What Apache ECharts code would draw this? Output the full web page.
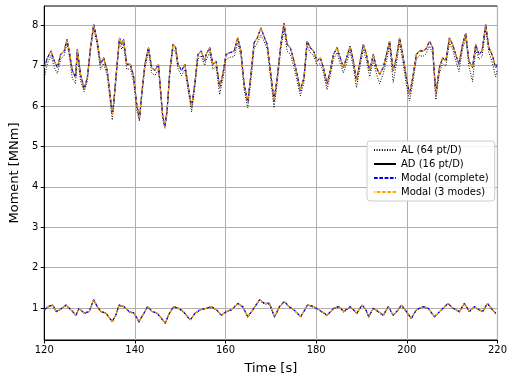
<!DOCTYPE html>
<html>
<head>
<meta charset="utf-8">
<script src="https://cdn.jsdelivr.net/npm/echarts@6/dist/echarts.min.js"></script>
<style>
  html, body { margin: 0; padding: 0; background: #fff; }
  #chart { width: 510px; height: 381px; }
</style>
</head>
<body>
<div id="chart"></div>
<script>
// Time samples [s] for the large (upper) moment signal
const tUpper = [120.0,120.7,121.5,122.2,122.9,123.6,124.4,125.0,125.5,126.2,126.9,127.3,128.0,128.8,129.5,130.2,130.9,131.7,132.4,133.1,133.9,134.6,135.0,135.3,136.0,136.6,137.1,137.5,138.2,139.0,139.7,140.4,141.0,141.5,142.2,143.0,143.7,144.4,145.2,145.5,146.1,146.6,147.1,147.7,148.4,149.0,149.5,150.3,151.0,151.7,152.5,153.2,153.9,154.6,155.4,155.7,156.5,157.2,157.9,158.7,159.4,160.1,160.8,161.9,162.7,163.4,164.1,164.9,165.6,166.3,167.0,167.8,168.5,169.2,170.0,170.7,171.4,172.2,172.9,173.6,174.3,175.1,175.8,176.5,177.3,178.0,178.7,179.4,180.2,180.9,181.6,182.4,183.1,183.8,184.6,185.3,186.0,186.7,187.5,188.2,188.9,189.7,190.4,191.1,191.8,192.6,193.3,194.0,194.8,195.5,196.2,197.0,197.7,198.4,199.1,199.9,200.6,201.3,202.1,202.8,203.5,204.2,205.0,205.7,206.4,207.2,207.9,208.6,209.4,210.1,210.8,211.5,212.3,213.0,213.7,214.5,215.2,215.9,216.6,217.4,218.1,218.8,219.6,220.0];

// AD (16 pt/D) upper moment [MNm]
const adUpper = [6.95,7.19,7.36,7.11,6.95,7.27,7.36,7.64,7.36,6.87,6.70,7.40,6.78,6.42,6.70,7.44,8.01,7.60,7.03,7.19,6.87,6.21,5.80,6.05,6.95,7.68,7.52,7.64,7.03,7.03,6.74,6.05,5.68,6.29,7.03,7.44,6.95,6.87,7.03,6.62,5.80,5.48,5.89,6.87,7.52,7.44,7.03,6.87,7.03,6.54,5.97,6.54,7.27,7.36,7.11,7.27,7.44,7.03,7.11,6.46,6.78,7.27,7.31,7.36,7.68,7.36,6.54,6.09,6.78,7.56,7.68,7.93,7.72,7.52,6.78,6.13,6.70,7.52,8.05,7.52,7.44,7.11,6.78,6.38,6.70,7.60,7.44,7.36,7.11,7.19,6.95,6.54,6.87,7.27,7.44,7.19,6.95,7.19,7.48,7.11,6.62,7.11,7.52,7.27,6.87,7.27,6.95,6.78,6.95,7.27,7.60,6.87,7.19,7.68,7.27,6.70,6.29,6.70,7.27,7.36,7.36,7.40,7.60,7.44,6.29,6.95,7.19,7.11,7.68,7.52,7.27,7.03,7.52,7.80,7.11,6.95,7.52,7.27,7.36,8.01,7.44,7.27,6.95,7.03];

// AL (64 pt/D) upper moment [MNm]
const alUpper = [6.70,7.05,7.25,6.95,6.80,7.15,7.25,7.55,7.25,6.68,6.55,7.25,6.62,6.35,6.60,7.35,7.92,7.50,6.90,7.05,6.75,6.05,5.65,5.95,6.85,7.60,7.40,7.50,6.90,6.92,6.60,5.90,5.62,6.20,6.92,7.35,6.82,6.75,6.90,6.50,5.70,5.45,5.80,6.75,7.42,7.32,6.92,6.75,6.90,6.42,5.85,6.42,7.15,7.25,7.00,7.12,7.32,6.90,6.98,6.28,6.65,7.15,7.20,7.22,7.55,7.22,6.40,5.95,6.62,7.42,7.55,7.75,7.60,7.40,6.62,5.95,6.55,7.40,7.90,7.35,7.28,6.95,6.62,6.25,6.58,7.48,7.32,7.25,7.00,7.05,6.82,6.40,6.75,7.15,7.32,7.05,6.82,7.05,7.35,6.95,6.45,6.98,7.40,7.12,6.72,7.12,6.80,6.55,6.80,7.12,7.48,6.58,7.05,7.55,7.12,6.52,6.12,6.55,7.15,7.25,7.22,7.28,7.48,7.30,6.15,6.82,7.05,6.98,7.55,7.40,7.12,6.85,7.40,7.68,6.98,6.60,7.40,7.15,7.22,7.90,7.32,7.10,6.72,6.90];

// Time samples [s] for the small (lower) moment signal
const tLower = [120.1,120.8,121.9,122.6,123.4,124.8,125.9,127.0,127.7,128.8,129.9,130.9,131.7,132.5,133.6,135.0,135.8,136.5,137.6,138.7,139.8,140.9,142.0,142.8,143.8,144.9,145.6,146.7,147.4,148.5,149.6,150.7,152.2,153.3,154.4,155.8,156.9,158.0,159.1,160.2,161.3,162.7,163.8,164.9,166.0,167.5,168.6,169.7,170.8,171.9,173.0,174.0,175.1,176.6,178.1,179.5,180.6,182.4,183.9,185.0,186.1,187.5,189.0,190.1,190.8,191.6,192.6,193.7,194.8,195.9,197.0,198.1,198.8,199.9,201.0,202.1,203.6,204.7,206.1,207.6,209.1,210.2,211.6,212.7,213.8,214.9,216.0,216.7,217.8,218.9,219.6];

// AD (16 pt/D) lower moment [MNm]
const adLower = [0.96,1.04,1.08,0.92,0.96,1.08,0.96,0.83,1.00,0.88,0.92,1.21,1.04,0.92,0.88,0.67,0.83,1.08,1.04,0.92,0.88,0.67,0.88,1.04,0.92,0.88,0.79,0.63,0.83,1.04,1.00,0.92,0.71,0.88,0.96,1.00,1.04,0.96,0.83,0.92,0.96,1.12,1.04,0.79,0.96,1.21,1.12,1.12,0.79,1.04,1.17,1.04,0.96,0.79,1.08,1.04,0.96,0.83,1.00,1.04,0.92,1.04,0.88,1.08,1.00,0.79,1.00,0.92,0.83,1.04,0.83,0.96,1.08,0.92,0.75,0.96,1.04,1.00,0.79,0.96,1.12,1.00,0.92,1.12,0.92,1.04,0.96,0.92,1.12,0.96,0.88];

// AL (64 pt/D) lower moment [MNm]
const alLower = [0.94,1.02,1.07,0.90,0.95,1.06,0.95,0.81,0.99,0.86,0.91,1.18,1.03,0.90,0.87,0.65,0.82,1.06,1.03,0.90,0.87,0.65,0.87,1.02,0.91,0.87,0.77,0.62,0.82,1.02,0.99,0.90,0.70,0.87,0.95,0.99,1.02,0.95,0.81,0.91,0.95,1.10,1.02,0.77,0.95,1.19,1.10,1.10,0.77,1.02,1.15,1.02,0.95,0.77,1.07,1.02,0.95,0.81,0.99,1.02,0.90,1.02,0.86,1.06,0.99,0.77,0.99,0.90,0.81,1.02,0.81,0.95,1.06,0.90,0.73,0.95,1.02,0.99,0.77,0.95,1.10,0.99,0.90,1.10,0.90,1.02,0.95,0.90,1.10,0.95,0.86];

// The modal reconstructions reproduce the AD signal
const modalFullUpper = adUpper;
const modalFullLower = adLower;
const modal3Upper = adUpper;
const modal3Lower = adLower;

const yTicks = [1, 2, 3, 4, 5, 6, 7, 8];
const names = ['AL (64 pt/D)', 'AD (16 pt/D)', 'Modal (complete)', 'Modal (3 modes)'];

const zip = (t, v) => t.map((x, i) => [x, v[i]]);
const FONT = 'DejaVu Sans';

function lineSeries(name, t, v, style) {
  return {
    name: name,
    type: 'line',
    data: zip(t, v),
    symbol: 'none',
    showSymbol: false,
    animation: false,
    silent: true,
    lineStyle: {
      width: style.width || 1,
      color: style.color,
      type: style.type,
      dashOffset: style.dashOffset || 0
    },
    itemStyle: { color: style.color },
    z: style.z
  };
}

const styles = [
  { color: '#000000', type: [1, 1.6], z: 2 },
  { color: '#000000', type: 'solid', z: 3 },
  { color: '#0000ff', type: [3.7, 1.6], z: 4, width: 1.1 },
  { color: '#ffa500', type: [3.7, 1.6], dashOffset: 2.6, z: 5, width: 1.1 }
];

const series = [
  lineSeries(names[0], tUpper, alUpper, styles[0]),
  lineSeries(names[0], tLower, alLower, styles[0]),
  lineSeries(names[1], tUpper, adUpper, styles[1]),
  lineSeries(names[1], tLower, adLower, styles[1]),
  lineSeries(names[2], tUpper, modalFullUpper, styles[2]),
  lineSeries(names[2], tLower, modalFullLower, styles[2]),
  lineSeries(names[3], tUpper, modal3Upper, styles[3]),
  lineSeries(names[3], tLower, modal3Lower, styles[3])
];

const chart = echarts.init(document.getElementById('chart'), null, { renderer: 'canvas' });
chart.setOption({
  animation: false,
  backgroundColor: '#ffffff',
  grid: {
    left: 43, right: 10, top: 6, bottom: 41,
    show: true, borderColor: '#000', borderWidth: 1, backgroundColor: 'transparent'
  },
  legend: {
    data: names,
    orient: 'vertical',
    left: 367, top: 141,
    itemWidth: 22, itemHeight: 12, itemGap: 4,
    padding: [4, 6, 4, 6],
    backgroundColor: 'rgba(255,255,255,0.85)',
    borderColor: '#cccccc', borderWidth: 1, borderRadius: 3,
    itemStyle: { opacity: 0 },
    textStyle: { fontFamily: FONT, fontSize: 10, color: '#000' },
    selectedMode: false
  },
  xAxis: {
    type: 'value',
    min: 120, max: 220, interval: 20,
    name: 'Time [s]', nameLocation: 'middle', nameGap: 22,
    nameTextStyle: { fontFamily: FONT, fontSize: 13, color: '#000' },
    axisLine: { show: true, lineStyle: { color: '#000', width: 1 } },
    axisTick: { show: true, inside: false, length: 3.5, lineStyle: { color: '#000' } },
    axisLabel: { fontFamily: FONT, fontSize: 10, color: '#000', margin: 5 },
    splitLine: { show: true, lineStyle: { color: '#b0b0b0', width: 1 } }
  },
  yAxis: {
    type: 'value',
    min: 0.214, max: 8.47,
    name: 'Moment [MNm]', nameLocation: 'middle', nameGap: 22, nameRotate: 90,
    nameTextStyle: { fontFamily: FONT, fontSize: 13, color: '#000' },
    axisLine: { show: true, lineStyle: { color: '#000', width: 1 } },
    axisTick: { show: true, inside: false, length: 3.5, customValues: yTicks, lineStyle: { color: '#000' } },
    axisLabel: { fontFamily: FONT, fontSize: 10, color: '#000', margin: 6, customValues: yTicks },
    splitLine: { show: true, lineStyle: { color: '#b0b0b0', width: 1 } }
  },
  series: series
});
</script>
</body>
</html>
